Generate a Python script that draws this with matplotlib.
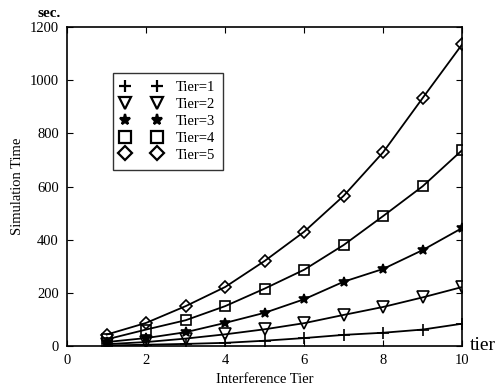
import matplotlib
matplotlib.use("Agg")
import matplotlib.pyplot as plt
from matplotlib.lines import Line2D

plt.rcParams['font.family'] = ['Liberation Serif', 'DejaVu Serif']

tiers = [1, 2, 3, 4, 5, 6, 7, 8, 9, 10]
tier1 = [2, 5, 8, 12, 20, 30, 42, 50, 62, 84]
tier2 = [7, 15, 28, 44, 63, 86, 117, 147, 183, 222]
tier3 = [15, 30, 52, 87, 125, 176, 242, 290, 361, 444]
tier4 = [25, 62, 97, 150, 216, 287, 380, 489, 601, 737]
tier5 = [43, 87, 150, 222, 320, 430, 565, 729, 933, 1135]

series = [tier1, tier2, tier3, tier4, tier5]
labels = ["Tier=1", "Tier=2", "Tier=3", "Tier=4", "Tier=5"]
markers = ["+", "v", "*", "s", "D"]
sizes = [8, 8, 7, 7, 6]

fig = plt.figure(figsize=(4.97, 3.91), dpi=100)
ax = fig.add_axes([0.135, 0.115, 0.795, 0.816])

handles = []
for datos, lab, m, ms in zip(series, labels, markers, sizes):
    face = "black" if m == "*" else "none"
    ax.plot(tiers, datos, color="black", linewidth=1.3, marker=m,
            markersize=ms, markerfacecolor=face, markeredgecolor="black",
            markeredgewidth=1.2)
    handles.append(Line2D([], [], linestyle="none", marker=m, markersize=ms + 1,
                          markerfacecolor=face, markeredgecolor="black",
                          markeredgewidth=1.6, label=lab))

ax.set_xlim(0, 10)
ax.set_ylim(0, 1200)
ax.set_xticks([0, 2, 4, 6, 8, 10])
ax.set_yticks([0, 200, 400, 600, 800, 1000, 1200])
ax.tick_params(direction="in", top=True, right=True, labelsize=10.5, length=4,
               pad=6)
for s in ax.spines.values():
    s.set_linewidth(1.2)

ax.set_xlabel("Interference Tier", fontsize=10.5, labelpad=4)
ax.set_ylabel("Simulation Time", fontsize=10.5)
fig.text(0.098, 0.965, "sec.", fontsize=11, fontweight="bold", ha="center",
         va="center")
fig.text(0.945, 0.117, "tier", fontsize=14, ha="left", va="center")

leg = ax.legend(handles=handles, loc="upper left",
                bbox_to_anchor=(0.115, 0.856), numpoints=2, fontsize=10.5,
                frameon=True, fancybox=False, edgecolor="black",
                handlelength=2.8, handletextpad=1.0, labelspacing=0.25,
                borderpad=0.55, borderaxespad=0)
leg.get_frame().set_linewidth(1.0)

plt.savefig("out.png", dpi=100)
